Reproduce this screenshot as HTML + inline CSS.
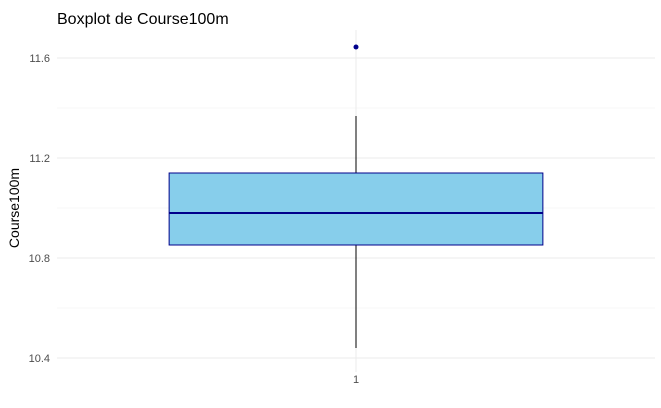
<!DOCTYPE html>
<html><head><meta charset="utf-8"><style>
body{margin:0;background:#fff;}
svg{display:block;font-family:"Liberation Sans",sans-serif;}
</style></head><body>
<svg id="chart" width="661" height="408" viewBox="0 0 661 408" xmlns="http://www.w3.org/2000/svg">
<text x="57" y="24" font-size="16" fill="#000">Boxplot de Course100m</text>
<text transform="translate(19,208) rotate(-90)" text-anchor="middle" font-size="14" fill="#000">Course100m</text>
<g id="grid"></g><g id="ticks"></g><g id="marks"></g>
</svg>
<script>
const categories=["1"];
const yTicks=[10.4,10.8,11.2,11.6];
const yMinor=[10.6,11.0,11.4];
const q1=[10.852];
const median=[10.98];
const q3=[11.14];
const whiskerLow=[10.44];
const whiskerHigh=[11.368];
const outliers=[[11.644]];
const NS="http://www.w3.org/2000/svg";
const plotLeft=57,plotRight=655,plotTop=30,plotBottom=372;
function yPos(v){return 358-(v-10.4)*250;}
function xPos(i){return plotLeft+(plotRight-plotLeft)*(i+0.5)/categories.length;}
function mk(tag,attrs,parent){const e=document.createElementNS(NS,tag);for(const k in attrs)e.setAttribute(k,attrs[k]);document.getElementById(parent).appendChild(e);return e;}
yMinor.forEach(v=>{const l=mk('line',{x1:plotLeft,x2:plotRight,y1:yPos(v),y2:yPos(v),stroke:'#f0f0f0','stroke-width':0.6},'grid');

});
yTicks.forEach(v=>{const l=mk('line',{x1:plotLeft,x2:plotRight,y1:yPos(v),y2:yPos(v),stroke:'#ebebeb','stroke-width':1},'grid');


const t=mk('text',{x:50,y:yPos(v)+4,'text-anchor':'end','font-size':11,fill:'#4d4d4d'},'ticks');
t.textContent=v.toFixed(1);

});
categories.forEach((c,i)=>{const cx=xPos(i);
const g=mk('line',{x1:cx,x2:cx,y1:plotTop,y2:plotBottom,stroke:'#ebebeb','stroke-width':1},'grid');


const t=mk('text',{x:cx,y:383,'text-anchor':'middle','font-size':11,fill:'#4d4d4d'},'ticks');
t.textContent=c;


const w=(plotRight-plotLeft)*0.625/categories.length;
const wl=mk('line',{x1:cx,x2:cx,y1:yPos(whiskerHigh[i]),y2:yPos(whiskerLow[i]),stroke:'#000','stroke-width':1},'marks');


const b=mk('rect',{x:cx-w/2,y:yPos(q3[i]),width:w,height:yPos(q1[i])-yPos(q3[i]),fill:'#87ceeb',stroke:'#00008b','stroke-width':1},'marks');


const m=mk('line',{x1:cx-w/2,x2:cx+w/2,y1:yPos(median[i]),y2:yPos(median[i]),stroke:'#00008b','stroke-width':2},'marks');


outliers[i].forEach(o=>{const p=mk('circle',{cx:cx,cy:yPos(o),r:2.5,fill:'#00008b'},'marks');

});});
</script>
</body></html>
